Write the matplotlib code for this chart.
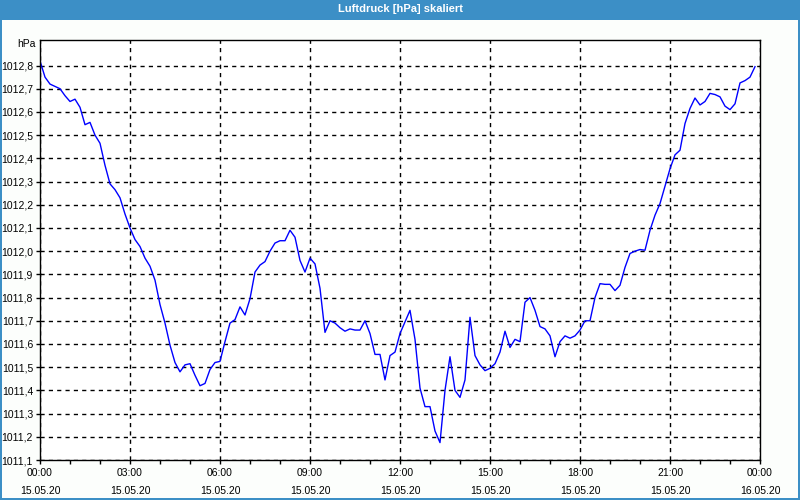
import matplotlib.pyplot as plt
from matplotlib.ticker import FixedLocator, FuncFormatter, MultipleLocator
from matplotlib.patches import Rectangle

plt.rcParams['font.family'] = ['Liberation Sans', 'DejaVu Sans']

# Luftdruck, 10-Minuten-Werte vom 15.05.20 00:00 bis 23:50
pressure = [
    1012.82, 1012.75, 1012.72, 1012.71, 1012.70, 1012.67, 1012.645, 1012.655, 1012.62, 1012.545,
    1012.555, 1012.50, 1012.465, 1012.37, 1012.29, 1012.265, 1012.23, 1012.16, 1012.10, 1012.05,
    1012.02, 1011.97, 1011.935, 1011.875, 1011.77, 1011.69, 1011.595, 1011.52, 1011.48, 1011.51,
    1011.515, 1011.465, 1011.42, 1011.43, 1011.49, 1011.52, 1011.525, 1011.61, 1011.69, 1011.705,
    1011.76, 1011.725, 1011.795, 1011.91, 1011.94, 1011.955, 1012.00, 1012.035, 1012.045, 1012.045,
    1012.09, 1012.06, 1011.96, 1011.91, 1011.97, 1011.945, 1011.84, 1011.65, 1011.70, 1011.69,
    1011.67, 1011.655, 1011.665, 1011.66, 1011.66, 1011.70, 1011.645, 1011.555, 1011.555, 1011.445,
    1011.55, 1011.565, 1011.645, 1011.695, 1011.745, 1011.62, 1011.41, 1011.33, 1011.33, 1011.225,
    1011.175, 1011.40, 1011.545, 1011.40, 1011.37, 1011.445, 1011.715, 1011.55, 1011.51, 1011.485,
    1011.495, 1011.515, 1011.565, 1011.655, 1011.585, 1011.62, 1011.61, 1011.78, 1011.80, 1011.745,
    1011.675, 1011.665, 1011.635, 1011.545, 1011.61, 1011.635, 1011.625, 1011.635, 1011.66, 1011.70,
    1011.70, 1011.80, 1011.86, 1011.857, 1011.857, 1011.83, 1011.853, 1011.93, 1011.99, 1012.00,
    1012.007, 1012.004, 1012.09, 1012.155, 1012.205, 1012.28, 1012.355, 1012.415, 1012.435, 1012.55,
    1012.615, 1012.66, 1012.63, 1012.645, 1012.68, 1012.675, 1012.665, 1012.625, 1012.61, 1012.635,
    1012.725, 1012.735, 1012.75, 1012.795,
]
hours = [i / 6 for i in range(len(pressure))]

tick_hours = [0, 3, 6, 9, 12, 15, 18, 21, 24]
tick_labels = ["00:00\n15.05.20", "03:00\n15.05.20", "06:00\n15.05.20", "09:00\n15.05.20",
               "12:00\n15.05.20", "15:00\n15.05.20", "18:00\n15.05.20", "21:00\n15.05.20",
               "00:00\n16.05.20"]

fig = plt.figure(figsize=(8, 5), dpi=100, facecolor="#fcfefc")

# Titelleiste und Rahmen
fig.patches.append(Rectangle((0, 0.96), 1, 0.04, transform=fig.transFigure,
                             facecolor="#3c8fc6", edgecolor="none"))
fig.patches.append(Rectangle((0, 0), 0.0025, 1, transform=fig.transFigure,
                             facecolor="#3c8fc6", edgecolor="none"))
fig.patches.append(Rectangle((0.9975, 0), 0.0025, 1, transform=fig.transFigure,
                             facecolor="#3c8fc6", edgecolor="none"))
fig.patches.append(Rectangle((0, 0), 1, 0.004, transform=fig.transFigure,
                             facecolor="#3c8fc6", edgecolor="none"))
fig.text(0.5, 0.981, "Luftdruck [hPa] skaliert", color="white", fontsize=8,
         fontweight="bold", ha="center", va="center")

ax = fig.add_axes([0.05, 0.08, 0.9, 0.84])
ax.set_facecolor("white")
ax.plot(hours, pressure, color="#0000ff", linewidth=1)

ax.set_xlim(0, 24)
ax.set_ylim(1011.1, 1012.91)
ax.xaxis.set_major_locator(FixedLocator(tick_hours))
ax.set_xticklabels(tick_labels, fontsize=7.5, linespacing=1.9)
ax.xaxis.set_minor_locator(MultipleLocator(1))
ax.yaxis.set_major_locator(FixedLocator([1011.1 + 0.1 * i for i in range(18)]))
ax.yaxis.set_major_formatter(FuncFormatter(lambda v, p: f"{v:.1f}".replace(".", ",")))
ax.tick_params(axis="both", which="both", direction="out", length=3, width=1,
               labelsize=7.5, pad=2)
ax.tick_params(axis="x", which="major", pad=3)

ax.grid(True, color="black", linestyle=(0, (3, 3)), linewidth=1)
for s in ax.spines.values():
    s.set_color("black")
    s.set_linewidth(1)

fig.text(0.045, 0.912, "hPa", fontsize=7.5, ha="right", va="center")

fig.savefig("out.png", dpi=100, facecolor=fig.get_facecolor())
